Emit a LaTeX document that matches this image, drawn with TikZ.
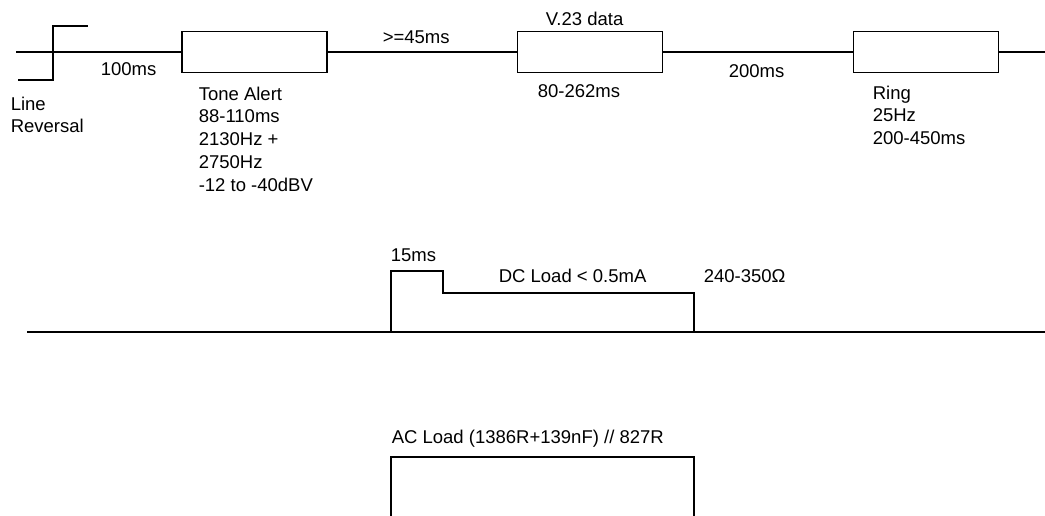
\documentclass[tikz,border=0pt]{standalone}
\usepackage{fontspec}
\setmainfont{Liberation Sans}

\begin{document}
\begin{tikzpicture}
      [x=1pt,y=-1pt,line width=1.6pt,
       every node/.style={inner sep=0pt,font=\fontsize{18.5}{22.7}\selectfont},
       lbl/.style={anchor=base west},
       lines/.style={anchor=north west,align=left},
       burst/.style={draw,rectangle,minimum width=145pt,minimum height=41pt}]
      \useasboundingbox (0,0) rectangle (1045,515);

      % top line: events on the line
      \coordinate (start) at (16,52);
      \coordinate (stop) at (1045,52);
      \node [burst] (tone) at (254.5,52) {};
      \node [burst] (data) at (590,52) {};
      \node [burst] (ring) at (926,52) {};

      \draw (start) -- (tone.west);
      \draw (tone.east) -- (data.west);
      \draw (data.east) -- (ring.west);
      \draw (ring.east) -- (stop);

      % line reversal step
      \draw (18,80) -- (53,80) -- (53,26) -- (88,26);

      \node [lines] (rev) at (10,96) {Line\\Reversal};
      \node [lbl] (gap1) at (100,75) {100ms};
      \node [lines] (alert) at (198,86) {Tone Alert\\88-110ms\\2130Hz +\\2750Hz\\-12 to -40dBV};
      \node [lbl] (gap2) at (382,43) {>=45ms};
      \node [lbl] (v23) at (545,25) {V.23 data};
      \node [lbl] (v23t) at (537,97) {80-262ms};
      \node [lbl] (gap3) at (728,77) {200ms};
      \node [lines] (ringt) at (872,85) {Ring\\25Hz\\200-450ms};

      % DC load
      \coordinate (dcl) at (27,332);
      \coordinate (dcr) at (1045,332);
      \draw (dcl) -- (dcr);
      \draw (391,332) -- (391,271) -- (443,271) -- (443,293) -- (694,293) -- (694,332);
      \node [lbl] (wet) at (390,261) {15ms};
      \node [lbl] (dc) at (498,282) {DC Load < 0.5mA};
      \node [lbl] (res) at (703,282) {240-350Ω};

      % AC load
      \node [lbl] (ac) at (391,443) {AC Load (1386R+139nF) // 827R};
      \draw (391,516) -- (391,457) -- (694,457) -- (694,516);
    \end{tikzpicture}
\end{document}
